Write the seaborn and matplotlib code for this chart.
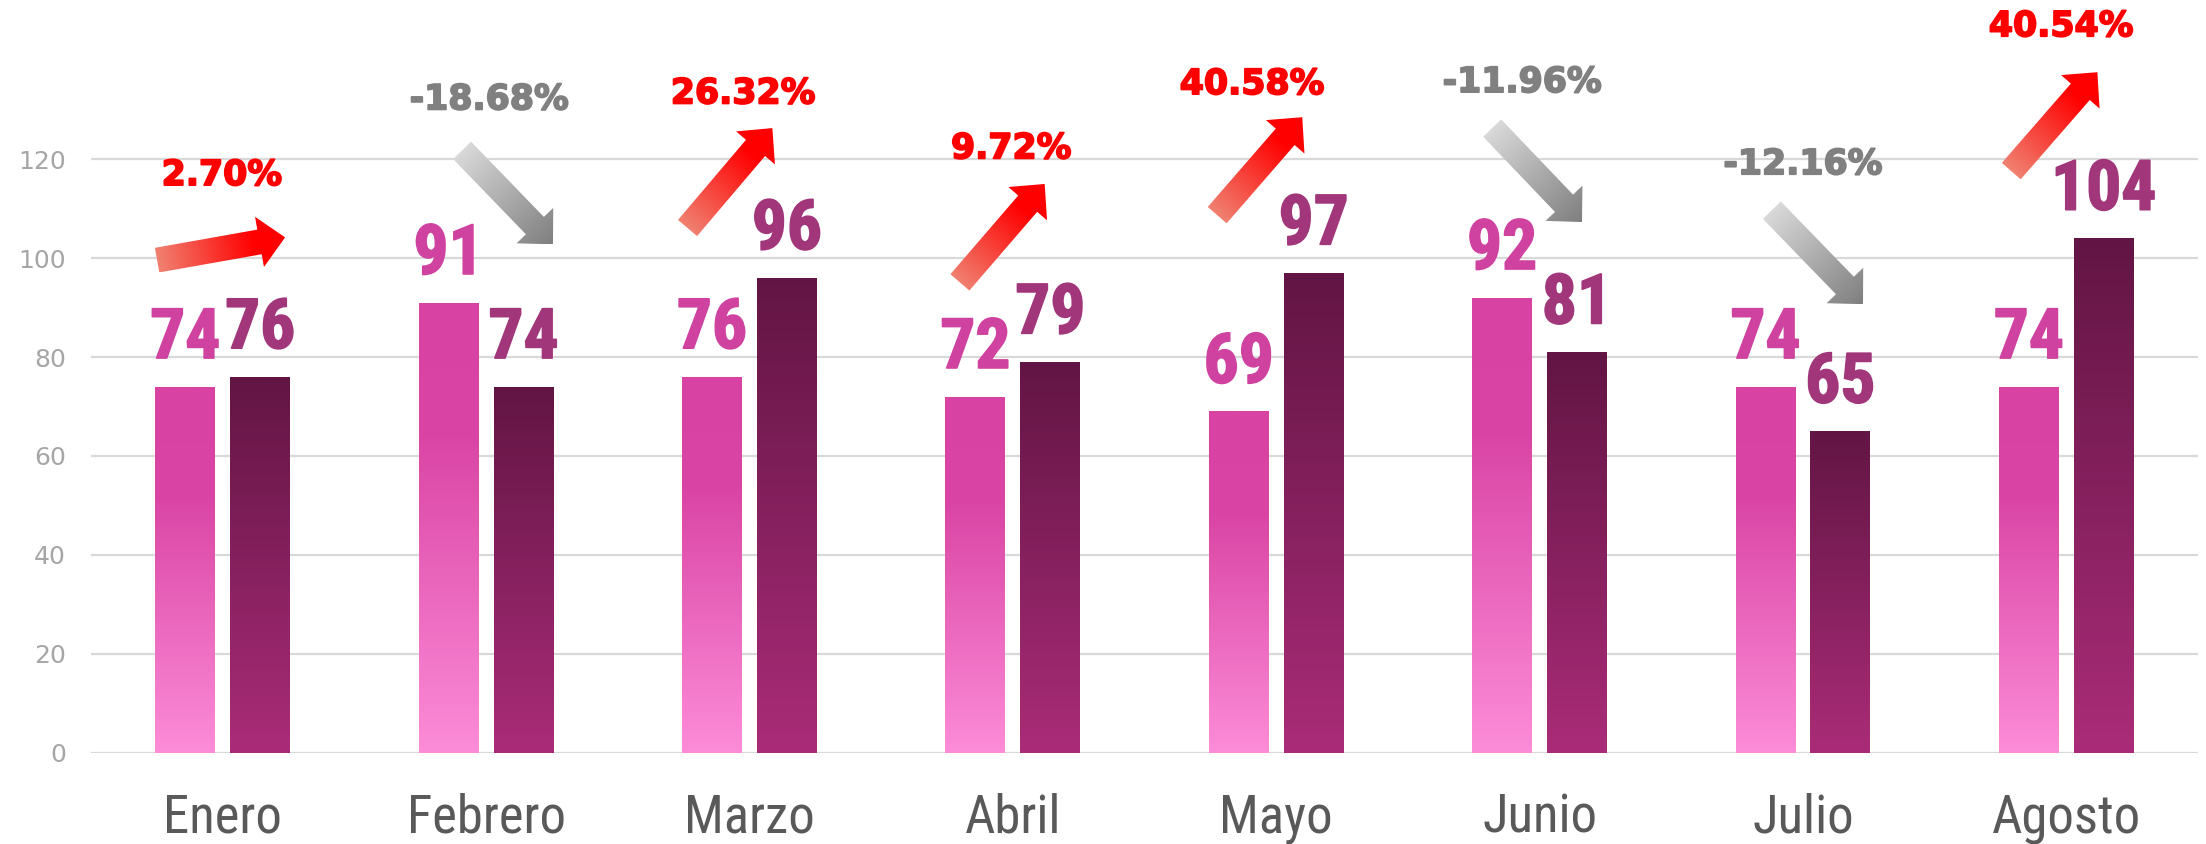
import numpy as np
import pandas as pd
import matplotlib
matplotlib.use('Agg')
import matplotlib.pyplot as plt
import matplotlib.patheffects as pe
import seaborn as sns
from matplotlib.patches import Polygon
from matplotlib.colors import LinearSegmentedColormap
from matplotlib.transforms import IdentityTransform
from matplotlib import font_manager

# data
months = ['Enero', 'Febrero', 'Marzo', 'Abril', 'Mayo', 'Junio', 'Julio', 'Agosto']
serie_a = [74, 91, 76, 72, 69, 92, 74, 74]
serie_b = [76, 74, 96, 79, 97, 81, 65, 104]
y_ticks = [0, 20, 40, 60, 80, 100, 120]

# arrow / percent label layout (offset from category centre, y in data units)
arrow_tail = [(-0.249, 99.6), (-0.091, 121.8), (-0.235, 106.1), (-0.201, 95.1),
              (-0.224, 108.7), (-0.180, 126.3), (-0.118, 109.7), (-0.209, 117.6)]
arrow_tip = [(0.237, 104.2), (0.254, 102.8), (0.087, 126.3), (0.121, 115.0),
             (0.099, 128.5), (0.161, 107.3), (0.228, 90.7), (0.118, 137.6)]
pct_pos = [(-0.003, 116.8), (0.012, 132.1), (-0.024, 133.3), (-0.006, 122.2),
           (-0.092, 135.2), (-0.066, 135.6), (0.0, 119.0), (-0.02, 146.9)]

df = pd.DataFrame({
    'mes': months * 2,
    'valor': serie_a + serie_b,
    'serie': ['A'] * len(months) + ['B'] * len(months),
})

sns.set_theme(style='white')
names = {f.name for f in font_manager.fontManager.ttflist}
narrow = [f for f in ['Liberation Sans Narrow', 'Roboto Condensed', 'Liberation Sans'] if f in names] + ['DejaVu Sans']

W, H = 2206, 844
fig = plt.figure(figsize=(W / 100, H / 100), dpi=100)
ax = fig.add_axes([91 / W, 91.3 / H, (2198 - 91) / W, 1 - 91.3 / H])

sns.barplot(data=df, x='mes', y='valor', hue='serie', palette=['#d942a3', '#661545'],
            width=0.569, gap=0.2, legend=False, ax=ax, errorbar=None)

ax.set_xlim(-0.5, 7.5)
ax.set_ylim(0, 152.2)
for s in ax.spines.values():
    s.set_visible(False)
ax.set_yticks(y_ticks)
ax.yaxis.grid(True, color='#d9d9d9', linewidth=1.6)
ax.set_axisbelow(True)
ax.tick_params(axis='y', length=0, pad=18, labelsize=18, labelcolor='#a6a6a6')
ax.tick_params(axis='x', length=0, pad=29, labelsize=38, labelcolor='#595959')
for lab in ax.get_xticklabels():
    lab.set_family(narrow)
ax.set_xlabel('')
ax.set_ylabel('')

# gradient fill on bars
cmap_a = LinearSegmentedColormap.from_list('a', [(0, '#fc8cd8'), (0.7, '#da45a5'), (1, '#d842a2')])
cmap_b = LinearSegmentedColormap.from_list('b', [(0, '#aa2c78'), (1, '#621544')])
grad = np.linspace(0, 1, 256)[:, None]
for p in list(ax.patches):
    x0, w, h = p.get_x(), p.get_width(), p.get_height()
    cx = x0 + w / 2
    i = int(round(cx))
    first = cx < i
    cm = cmap_a if first else cmap_b
    im = ax.imshow(grad, extent=[x0, x0 + w, 0, h], origin='lower', aspect='auto',
                   cmap=cm, zorder=p.get_zorder())
    im.set_clip_path(p)
    p.set_facecolor('none')
    p.set_edgecolor('none')
    col = '#cf42a0' if first else '#a2367b'
    ax.text(cx, h + 5.8, str(int(h)), ha='center', va='baseline', fontsize=50,
            fontweight='bold', color=col, family=narrow,
            path_effects=[pe.withStroke(linewidth=1.2, foreground=col)])

ax.set_xlim(-0.5, 7.5)
ax.set_ylim(0, 152.2)

# arrows + percentage change
red = LinearSegmentedColormap.from_list('r', [(0, '#f08070'), (0.75, '#ff0000'), (1, '#ff0000')])
gray = LinearSegmentedColormap.from_list('g', [(0, '#d9d9d9'), (1, '#7f7f7f')])
sw, hw, hl = 12.5, 25.5, 26
inv = ax.transData.inverted()
for i in range(len(months)):
    pct = (serie_b[i] / serie_a[i] - 1) * 100
    up = pct >= 0
    T = ax.transData.transform((i + arrow_tail[i][0], arrow_tail[i][1]))
    P = ax.transData.transform((i + arrow_tip[i][0], arrow_tip[i][1]))
    L = np.hypot(*(P - T))
    u = (P - T) / L
    n = np.array([-u[1], u[0]])
    B = P - u * hl
    pts = np.array([T + n * sw, B + n * sw, B + n * hw, P, B - n * hw, B - n * sw, T - n * sw])
    poly = Polygon(pts, closed=True, transform=IdentityTransform(), facecolor='none',
                   edgecolor='none', clip_on=False)
    ax.add_patch(poly)
    (px0, py0), (px1, py1) = pts.min(axis=0), pts.max(axis=0)
    gx, gy = np.meshgrid(np.linspace(px0, px1, 120), np.linspace(py0, py1, 120))
    t = ((gx - T[0]) * u[0] + (gy - T[1]) * u[1]) / L
    d0 = inv.transform((px0, py0))
    d1 = inv.transform((px1, py1))
    im = ax.imshow(np.clip(t, 0, 1), extent=[d0[0], d1[0], d0[1], d1[1]], origin='lower',
                   aspect='auto', cmap=red if up else gray, vmin=0, vmax=1, zorder=4)
    im.set_clip_path(poly)
    col = '#ff0000' if up else '#808080'
    ax.text(i + pct_pos[i][0], pct_pos[i][1], f'{pct:.2f}%', ha='center', va='center',
            fontsize=25, fontweight='bold', color=col, family='DejaVu Sans',
            path_effects=[pe.withStroke(linewidth=1.3, foreground=col)])

ax.set_xlim(-0.5, 7.5)
ax.set_ylim(0, 152.2)
fig.savefig('out.png', dpi=100, facecolor='white')
